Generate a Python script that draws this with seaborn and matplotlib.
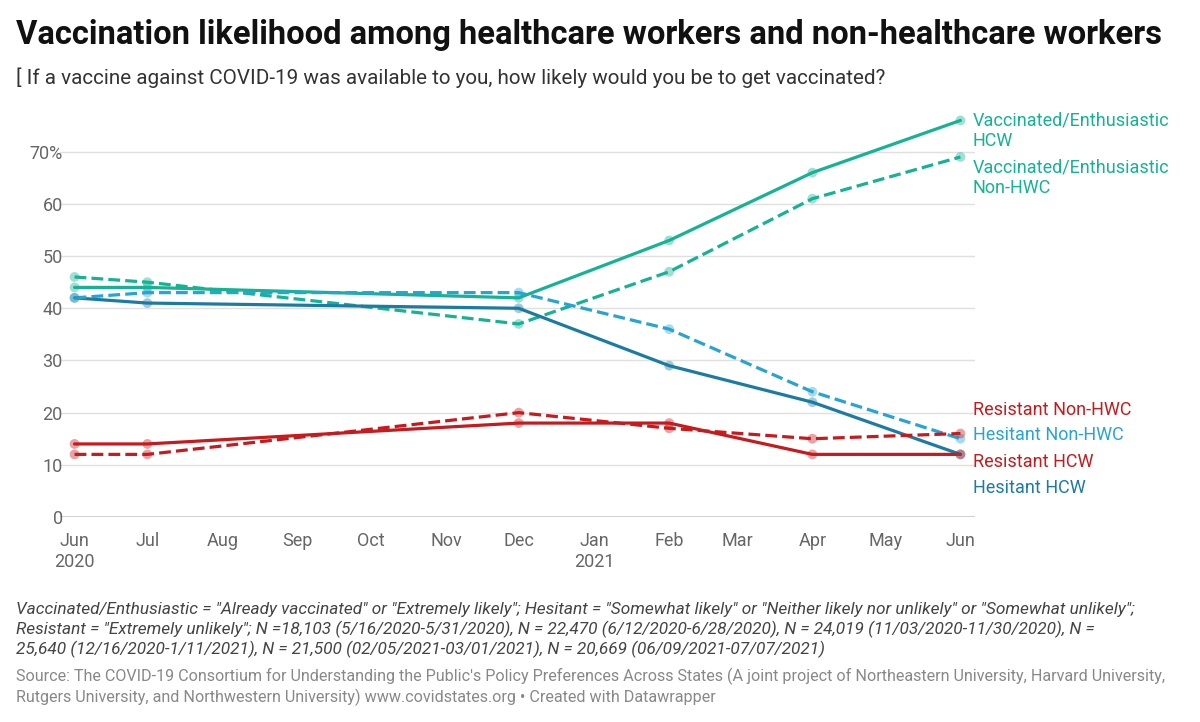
import pandas as pd
import numpy as np
import matplotlib
matplotlib.use('Agg')
import matplotlib.pyplot as plt
import matplotlib.dates as mdates
import seaborn as sns

# survey waves
dates = pd.to_datetime(['2020-06-01', '2020-07-01', '2020-12-01', '2021-02-01', '2021-04-01', '2021-06-01'])
vacc_hcw = [44, 44, 42, 53, 66, 76]
vacc_non = [46, 45, 37, 47, 61, 69]
hes_hcw = [42, 41, 40, 29, 22, 12]
hes_non = [42, 43, 43, 36, 24, 15]
res_hcw = [14, 14, 18, 18, 12, 12]
res_non = [12, 12, 20, 17, 15, 16]

series = [
    ('Vaccinated/Enthusiastic\nHCW', vacc_hcw, '#13b394', '-'),
    ('Vaccinated/Enthusiastic\nNon-HWC', vacc_non, '#13b394', '--'),
    ('Hesitant HCW', hes_hcw, '#1b7ca3', '-'),
    ('Hesitant Non-HWC', hes_non, '#26a5d3', '--'),
    ('Resistant HCW', res_hcw, '#c8191d', '-'),
    ('Resistant Non-HWC', res_non, '#c8191d', '--'),
]

sns.set_style('white')
plt.rcParams['font.family'] = ['Roboto', 'DejaVu Sans']

fig = plt.figure(figsize=(12, 7.22), dpi=100)
ax = fig.add_axes([60/1200, 1-517/722, (975-60)/1200, (517-110)/722])

for name, vals, col, ls in series:
    df = pd.DataFrame({'date': dates, 'v': vals})
    sns.lineplot(data=df, x='date', y='v', ax=ax, color=col, linestyle=ls, lw=2.3)
    sns.scatterplot(data=df, x='date', y='v', ax=ax, color=col, s=50, alpha=0.4,
                    edgecolor='none', zorder=3)

pad = pd.Timedelta(days=6)
ax.set_xlim(dates[0] - pad, dates[-1] + pad)
ax.set_ylim(0, 78)
ax.set_yticks(range(0, 80, 10))
ax.set_yticklabels(['0', '10', '20', '30', '40', '50', '60', '70%'])
ax.grid(axis='y', color='#e0e0e0', lw=1)
ax.axhline(0, color='#333333', lw=1)
for s in ax.spines.values():
    s.set_visible(False)
ax.tick_params(axis='y', length=0, labelsize=13, labelcolor='#666666', pad=-2)
for lbl in ax.get_yticklabels():
    lbl.set_horizontalalignment('right')

months = pd.date_range('2020-06-01', '2021-06-01', freq='MS')
labels = [m.strftime('%b') for m in months]
labels[0] = 'Jun\n2020'
labels[7] = 'Jan\n2021'
ax.set_xticks(months)
ax.set_xticklabels(labels, fontsize=13, color='#666666', va='top')
ax.tick_params(axis='x', length=5, color='#333333', pad=6)
ax.set_xlabel('')
ax.set_ylabel('')

# end labels
lx = dates[-1] + pd.Timedelta(days=5)
ax.text(lx, 74, 'Vaccinated/Enthusiastic\nHCW', color='#13b394', fontsize=13, va='center', clip_on=False, linespacing=1.2)
ax.text(lx, 65, 'Vaccinated/Enthusiastic\nNon-HWC', color='#13b394', fontsize=13, va='center', clip_on=False, linespacing=1.2)
ax.text(lx, 20.5, 'Resistant Non-HWC', color='#c8191d', fontsize=13, va='center', clip_on=False)
ax.text(lx, 15.8, 'Hesitant Non-HWC', color='#26a5d3', fontsize=13, va='center', clip_on=False)
ax.text(lx, 10.5, 'Resistant HCW', color='#c8191d', fontsize=13, va='center', clip_on=False)
ax.text(lx, 5.5, 'Hesitant HCW', color='#1b7ca3', fontsize=13, va='center', clip_on=False)

fig.text(16/1200, 1-35/722, 'Vaccination likelihood among healthcare workers and non-healthcare workers',
         fontsize=23.6, fontweight='bold', va='center', color='#111111')
fig.text(16/1200, 1-78/722, '[ If a vaccine against COVID-19 was available to you, how likely would you be to get vaccinated?',
         fontsize=14.9, va='center', color='#333333')
fig.text(16/1200, 1-630/722,
         'Vaccinated/Enthusiastic = "Already vaccinated" or "Extremely likely"; Hesitant = "Somewhat likely" or "Neither likely nor unlikely" or "Somewhat unlikely";\n'
         'Resistant = "Extremely unlikely"; N =18,103 (5/16/2020-5/31/2020), N = 22,470 (6/12/2020-6/28/2020), N = 24,019 (11/03/2020-11/30/2020), N =\n'
         '25,640 (12/16/2020-1/11/2021), N = 21,500 (02/05/2021-03/01/2021), N = 20,669 (06/09/2021-07/07/2021)',
         fontsize=12.4, style='italic', va='center', color='#444444', linespacing=1.25)
fig.text(16/1200, 1-687/722,
         'Source: The COVID-19 Consortium for Understanding the Public\'s Policy Preferences Across States (A joint project of Northeastern University, Harvard University,\n'
         'Rutgers University, and Northwestern University) www.covidstates.org \u2022 Created with Datawrapper',
         fontsize=11.6, va='center', color='#888888', linespacing=1.3)

fig.savefig('out.png', dpi=100)
